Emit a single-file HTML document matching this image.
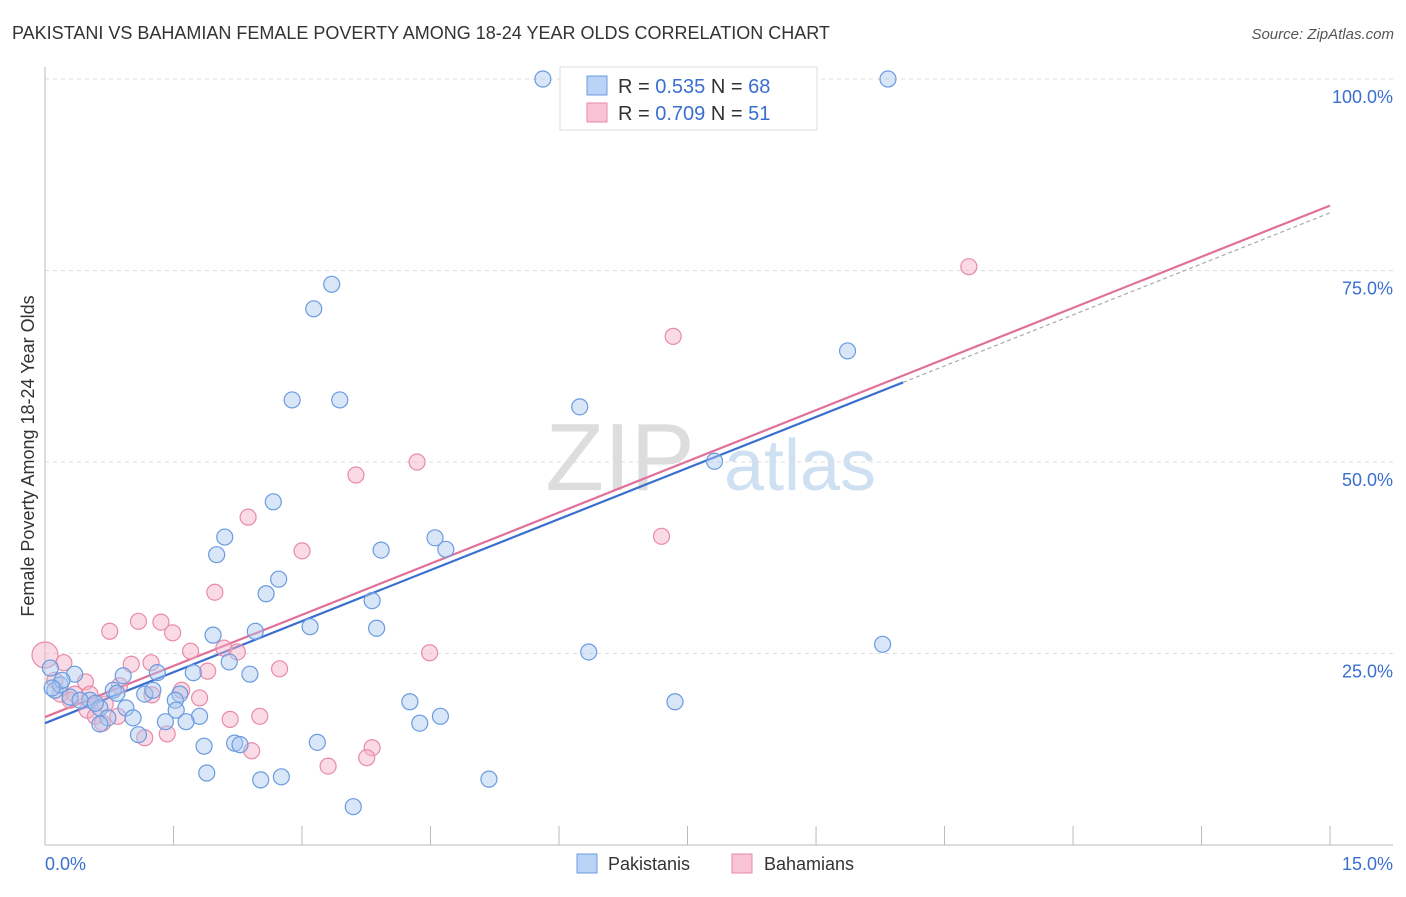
<!DOCTYPE html>
<html><head><meta charset="utf-8"><style>
body{margin:0;background:#fff;font-family:"Liberation Sans",sans-serif;}
svg text{font-family:"Liberation Sans",sans-serif;}
</style></head><body>
<svg width="1406" height="892" viewBox="0 0 1406 892">
<text x="12" y="39" font-size="18" fill="#333">PAKISTANI VS BAHAMIAN FEMALE POVERTY AMONG 18-24 YEAR OLDS CORRELATION CHART</text>
<text x="1394" y="39" font-size="15" fill="#555" font-style="italic" text-anchor="end">Source: ZipAtlas.com</text>
<text x="620" y="490" font-size="96" fill="#ddd" font-family="Liberation Serif" text-anchor="middle">ZIP</text>
<text x="800" y="490" font-size="72" fill="#cfe0f3" text-anchor="middle">atlas</text>
<g id="grid"></g><g id="axes"></g><g id="lines"></g><g id="pts"></g>
<text transform="translate(34,456) rotate(-90)" font-size="18" fill="#333" text-anchor="middle">Female Poverty Among 18-24 Year Olds</text>
<text x="45" y="870" font-size="18" fill="#3a6fd0">0.0%</text>
<text x="1393" y="870" font-size="18" fill="#3a6fd0" text-anchor="end">15.0%</text>
<g>
<rect x="560" y="67" width="257" height="63" fill="#fff" stroke="#ddd"/>
<rect x="587" y="76" width="20" height="19" fill="#b8d3f5" stroke="#6a9be0"/>
<rect x="587" y="103" width="20" height="19" fill="#f8c4d5" stroke="#e88aa8"/>
<text x="618" y="93" font-size="20" fill="#333">R = <tspan fill="#3a6fd0">0.535</tspan>   N = <tspan fill="#3a6fd0">68</tspan></text>
<text x="618" y="120" font-size="20" fill="#333">R = <tspan fill="#3a6fd0">0.709</tspan>   N = <tspan fill="#3a6fd0"> 51</tspan></text>
</g>
<g>
<rect x="577" y="854" width="20" height="19" fill="#b8d3f5" stroke="#6a9be0"/>
<text x="608" y="870" font-size="18" fill="#333">Pakistanis</text>
<rect x="732" y="854" width="20" height="19" fill="#f8c4d5" stroke="#e88aa8"/>
<text x="764" y="870" font-size="18" fill="#333">Bahamians</text>
</g>
</svg>
<script>
const yTicks=[25,50,75,100];
const yTickLabels=["25.0%","50.0%","75.0%","100.0%"];
const xTicks=[0,1.5,3,4.5,6,7.5,9,10.5,12,13.5,15];
const pakX=[5.54,9.38,3.19,2.99,8.93,2.75,3.28,5.95,7.45,2.54,2.00,4.34,1.91,3.74,4.46,2.60,2.46,3.64,3.69,2.95,2.34,1.87,2.05,6.05,9.32,2.28,1.65,1.25,0.87,0.33,0.06,0.11,0.17,0.28,0.50,0.76,0.80,1.11,1.20,1.50,1.45,4.06,7.01,0.61,0.90,1.46,0.98,1.72,0.70,1.34,1.57,0.61,4.17,4.40,1.04,1.77,2.11,2.17,3.03,1.80,2.40,2.63,4.94,3.43,0.19,0.39,0.56,0.08];
const pakY=[100,100,73.2,70,64.5,58.1,58.1,57.2,50.1,44.8,40.2,40.1,37.9,38.5,38.6,34.7,32.8,31.9,28.3,28.5,27.9,27.4,23.9,25.2,26.2,22.3,22.5,22.5,22.1,22.3,23.1,20.2,20.9,19.3,18.9,20.2,19.8,19.7,20.2,19.7,18.9,18.7,18.7,17.9,17.9,17.6,16.6,16.8,16.6,16.1,16.1,15.8,15.9,16.8,14.4,12.9,13.3,13.1,13.4,9.4,8.5,8.9,8.6,5.0,21.5,18.9,18.5,20.5];
const bahX=[10.28,6.99,4.14,3.46,6.86,2.26,2.86,1.89,1.04,1.29,0.72,1.42,1.99,2.14,4.28,1.62,2.61,1.81,0.96,1.18,0.21,0,0.45,1.52,1.19,0.17,0.33,0.83,0.47,0.67,0.56,0.81,2.06,2.39,0.64,1.11,1.36,2.30,3.64,3.58,3.15,0.11,0.28,0.50,1.72];
const bahY=[75.5,66.4,50,48.3,40.3,42.8,38.4,33.0,29.2,29.1,27.9,27.7,25.7,25.2,25.1,25.3,23.0,22.7,23.6,23.8,23.8,24.8,21.3,20.2,19.6,19.7,19.7,20.8,17.6,18.4,16.8,16.8,16.4,16.8,15.9,14.0,14.5,12.3,12.7,11.4,10.3,21.5,18.9,19.7,19.2];
const pakLine=[15.9,4.66];const bahLine=[16.7,4.67];
const NS="http://www.w3.org/2000/svg";
const sx=v=>45+v*89.87, sy=v=>845-v*7.66;
function mk(t,a,p){const e=document.createElementNS(NS,t);for(const k in a)e.setAttribute(k,a[k]);document.getElementById(p).appendChild(e);return e;}
yTicks.forEach((t,i)=>{
 const g=mk('line',{x1:45,x2:1393,y1:sy(t),y2:sy(t),stroke:'#ddd','stroke-dasharray':'4,4'},'grid');
 
 
 const l=mk('text',{x:1393,y:sy(t)+24,'font-size':18,fill:'#3a6fd0','text-anchor':'end'},'grid');
 l.textContent=yTickLabels[i];
 
 
});
const xa=mk('line',{x1:45,x2:1393,y1:845,y2:845,stroke:'#bbb'},'axes');


const ya=mk('line',{x1:45,x2:45,y1:67,y2:845,stroke:'#bbb'},'axes');


xTicks.forEach(t=>{const x=45+t*85.67;
 const k=mk('line',{x1:x,x2:x,y1:826,y2:845,stroke:'#bbb'},'axes');
 
 
});
function pts(X,Y,fill,stroke,name){X.forEach((x,i)=>{
 const c=mk('circle',{cx:sx(x),cy:sy(Y[i]),r:(x===0?13:8),fill:fill,'fill-opacity':0.45,stroke:stroke,'stroke-width':1.2},'pts');
 
 
});}
pts(bahX,bahY,'#f5b0c6','#e88aa8','bahamian-point');
pts(pakX,pakY,'#a8c8f0','#6a9be0','pakistani-point');
const xEnd=(1330-45)/89.87, xPakEnd=(903-45)/89.87;
const lp=mk('line',{x1:sx(0),y1:sy(pakLine[0]),x2:sx(xPakEnd),y2:sy(pakLine[0]+pakLine[1]*xPakEnd),stroke:'#3a6fd0','stroke-width':2.2},'lines');


const lpd=mk('line',{x1:sx(xPakEnd),y1:sy(pakLine[0]+pakLine[1]*xPakEnd),x2:sx(xEnd),y2:sy(pakLine[0]+pakLine[1]*xEnd),stroke:'#aaa','stroke-width':1.2,'stroke-dasharray':'4,3'},'lines');


const lb=mk('line',{x1:sx(0),y1:sy(bahLine[0]),x2:sx(xEnd),y2:sy(bahLine[0]+bahLine[1]*xEnd),stroke:'#e0709a','stroke-width':2.2},'lines');


</script>
</body></html>
